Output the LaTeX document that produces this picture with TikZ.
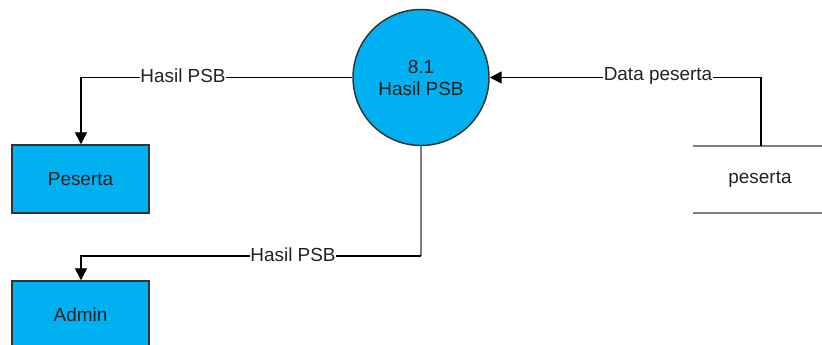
\documentclass[tikz,border=0pt]{standalone}
\usepackage{fontspec}
\setmainfont{Liberation Sans}
\usetikzlibrary{arrows.meta}
\definecolor{procblue}{HTML}{00B0F0}
\definecolor{edgegray}{HTML}{333333}
\definecolor{txt}{HTML}{222222}
\definecolor{storegray}{HTML}{7F7F7F}
\tikzset{
  proc/.style={circle, draw=edgegray, line width=1.1pt, fill=procblue, minimum size=102pt, inner sep=0pt, align=center, text=txt, font=\fontsize{14.2}{16.5}\selectfont},
  entity/.style={rectangle, draw=edgegray, line width=1.1pt, fill=procblue, minimum width=102.75pt, minimum height=51pt, inner sep=0pt, text=txt, font=\fontsize{14.2}{16.5}\selectfont},
  flow/.style={draw=black, line width=1.1pt, -{Triangle[length=9pt,width=9pt]}},
  lbl/.style={fill=white, inner sep=0.5pt, text=txt, font=\fontsize{14.2}{16.5}\selectfont},
  storeline/.style={draw=storegray, line width=1.5pt},
}
\begin{document}
\begin{tikzpicture}[x=0.75pt, y=-0.75pt]
\useasboundingbox (0,0) rectangle (822,345);
\node[proc] (p) at (421,77.5) {8.1\\Hasil PSB};
\node[entity] (peserta) at (80.5,179) {Peserta};
\node[entity] (admin) at (80.5,315) {Admin};
\node[text=txt, font=\fontsize{14.2}{16.5}\selectfont] (store) at (760,179.5) {peserta};
\draw[storeline] (693,146) -- (822,146);
\draw[storeline] (693,213) -- (822,213);
\coordinate (storetop) at (761,146);
\coordinate (c1) at (81,77.5);
\coordinate (c2a) at (421,256);
\coordinate (c2b) at (81,256);
\coordinate (c3) at (761,77.5);
% flow 1
\draw[flow] (p.west) -- (c1) -- (peserta.north -| c1);
\node[lbl] at (183,75.5) {Hasil PSB};
% flow 2
\draw[draw=storegray, line width=1.5pt] (p.south) -- (c2a);
\draw[flow] (c2a) -- (c2b) -- (admin.north -| c2b);
\node[lbl] at (293,254.5) {Hasil PSB};
% flow 3
\draw[flow] (storetop) -- (c3) -- (p.east);
\node[lbl] at (658,75.5) {Data peserta};
\end{tikzpicture}
\end{document}
